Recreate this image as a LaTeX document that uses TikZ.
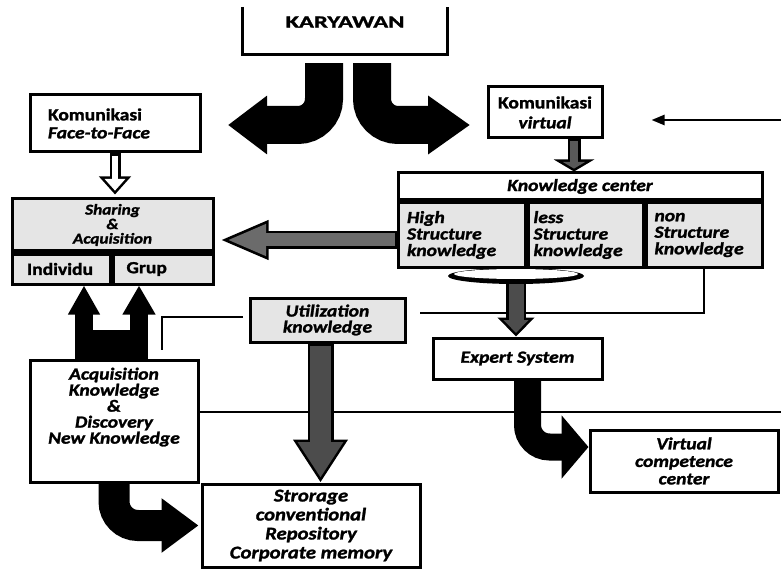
\documentclass[tikz,border=0pt]{standalone}
\usepackage{fontspec}
\setmainfont{Carlito}[FakeStretch=1.15,FakeBold=1.5]
\newfontfamily\widefont{Carlito}[FakeStretch=1.45,FakeBold=1.5]
\usetikzlibrary{arrows.meta,positioning}

\def\boxrule{3pt}
\def\linerule{2.4pt}

\begin{document}
\begin{tikzpicture}[x=1pt,y=-1pt,font=\bfseries\fontsize{17}{16.5}\selectfont]
        \tikzstyle{box}=[draw=black,line width=\boxrule,fill=white,inner sep=0pt,align=center]
        \tikzstyle{grey box}=[box,fill=black!10]
        \tikzstyle{kc part}=[grey box,align=left,minimum height=64pt,anchor=north west,font=\bfseries\itshape\fontsize{17}{16.5}\selectfont]
        \tikzstyle{thin line}=[draw=black,line width=\linerule]
        \tikzstyle{black arrow}=[draw=black,line cap=butt]

        \useasboundingbox (0,0) rectangle (781,569);

        % Draw the top box, cut at the top edge
        \coordinate (topcut) at (0,7);
        \node[minimum width=204pt,minimum height=64pt,inner sep=0pt,font=\widefont\bfseries\fontsize{17}{16.5}\selectfont] (kary) at (345,22) {KARYAWAN};
        \draw[line width=\boxrule] (kary.south west |- topcut) -- (kary.south west) -- (kary.south east) -- (kary.south east |- topcut);

        % Draw the communication boxes
        \node[box,align=left,text width=134pt,minimum width=170pt,minimum height=57pt] (f2f) at (115,123.5) {Komunikasi\\[1.5pt]\textit{Face-to-Face}};
        \node[box,minimum width=114pt,minimum height=51pt] (virt) at (545,112.5) {Komunikasi\\[3.5pt]\textit{virtual}};

        % Draw the sharing box and its two parts
        \node[grey box,minimum width=201pt,minimum height=52pt,font=\bfseries\itshape\fontsize{15}{14.5}\selectfont] (share) at (112.5,225) {Sharing\\\&\\Acquisition};
        \node[grey box,align=left,text width=68pt,minimum width=98pt,minimum height=30pt,anchor=north west] (indiv) at (share.south west) {Individu};
        \node[grey box,align=left,text width=73pt,minimum width=100pt,minimum height=30pt,anchor=north west] (grup) at (indiv.north east) {Grup};

        % Draw the knowledge center and its three parts
        \node[box,minimum width=364pt,minimum height=27pt,font=\bfseries\itshape\fontsize{17}{16.5}\selectfont] (kc) at (580,186.5) {Knowledge center};
        \node[kc part,text width=109.5pt,minimum width=127.5pt] (high) at (kc.south west) {High\\Structure\\knowledge};
        \node[kc part,text width=105pt,minimum width=115pt] (less) at (high.north east) {less\\Structure\\knowledge};
        \node[kc part,text width=99.5pt,minimum width=115.5pt] (non) at (less.north east) {non\\Structure\\knowledge};

        % Draw the lower boxes
        \node[grey box,minimum width=155pt,minimum height=44pt,font=\bfseries\itshape\fontsize{17}{16}\selectfont] (util) at (327.5,320) {Utilization\\knowledge};
        \node[box,minimum width=169pt,minimum height=41pt,font=\bfseries\itshape\fontsize{17}{16.5}\selectfont] (expert) at (517.5,358.5) {Expert System};
        \node[box,minimum width=168pt,minimum height=122pt] (acq) at (114,421) {};
        \node[below=9pt of acq.north,inner sep=0pt,align=center,font=\bfseries\itshape\fontsize{17}{16}\selectfont] (acqtext) {Acquisition\\Knowledge\\\&\\Discovery\\New Knowledge};
        \node[box,minimum width=218pt,minimum height=83pt,font=\bfseries\itshape\fontsize{18}{19}\selectfont] (store) at (311,525.5) {Strorage\\conventional\\Repository\\Corporate memory};
        \node[box,minimum width=188pt,minimum height=62pt,font=\bfseries\itshape\fontsize{17}{17.5}\selectfont] (vcc) at (684,461) {Virtual\\competence\\center};

        % Thin lines between the parts
        \coordinate (j1) at (420,313);
        \coordinate (j2) at (243,317);
        \coordinate (j3) at (162,350);
        \coordinate (rightin) at (781,120);
        \coordinate (rightout) at (781,412);
        \draw[thin line] (non.south) |- (j1);
        \draw[thin line] (j2) -| (j3);
        \draw[thin line] (acq.east |- rightout) -- (rightout);
        \draw[thin line,-{Triangle[length=13pt,width=10pt]},shorten >=48pt] (rightin) -- (virt.east |- rightin);

        % The disc under the knowledge center
        \coordinate (disc) at (516,276);
        \fill (disc) ellipse (68 and 8);
        \fill[white] ([yshift=2pt]disc) ellipse (62 and 5);

        % Black arrows out of KARYAWAN
        \coordinate (lefttip) at (228,125);
        \coordinate (righttip) at (470,125);
        \draw[black arrow,line width=38pt,rounded corners=26pt,-{Triangle[length=39pt,width=56pt]}] ([xshift=-21pt,yshift=-9pt]kary.south) |- (lefttip);
        \draw[black arrow,line width=38pt,rounded corners=26pt,-{Triangle[length=42pt,width=56pt]}] ([xshift=27pt,yshift=-9pt]kary.south) |- (righttip);

        % Grey arrows with black rim
        \draw[black arrow,line width=13pt,-{Triangle[length=12pt,width=40pt]}] ([xshift=29pt]virt.south) -- ([xshift=-6pt]kc.north);
        \draw[black arrow,draw=black!65,line width=8pt,-{Triangle[length=6.6pt,width=22pt]},shorten >=2.9pt] ([xshift=29pt,yshift=-2pt]virt.south) -- ([xshift=-6pt]kc.north);

        \coordinate (kcout) at ([yshift=-5pt]high.west);
        \draw[black arrow,line width=18pt,-{Triangle[length=49pt,width=36pt]},shorten >=5pt] (kcout) -- (kcout -| share.east);
        \draw[black arrow,draw=black!58,line width=13pt,-{Triangle[length=39.3pt,width=28.9pt]},shorten >=12.2pt,shorten <=2pt] (kcout) -- (kcout -| share.east);

        \coordinate (discout) at ([yshift=-8pt]disc);
        \draw[black arrow,line width=20pt,-{Triangle[length=19pt,width=36pt]}] (discout) -- (discout |- expert.north);
        \draw[black arrow,draw=black!70,line width=15pt,-{Triangle[length=12.9pt,width=24.4pt]},shorten >=3.6pt] (discout) -- (discout |- expert.north);

        \coordinate (utilout) at ([xshift=-7pt]util.south);
        \draw[black arrow,line width=26pt,-{Triangle[length=43pt,width=52pt]}] (utilout) -- (utilout |- store.north);
        \draw[black arrow,draw=black!70,line width=21pt,-{Triangle[length=35.7pt,width=43.2pt]},shorten >=4.8pt,shorten <=2pt] (utilout) -- (utilout |- store.north);

        % Black arrows in the lower part
        \draw[black arrow,line width=31pt,rounded corners=24pt,-{Triangle[length=37pt,width=52pt]},shorten >=2pt] (acq.south) |- (store.west);
        \draw[black arrow,line width=27pt,rounded corners=22pt,-{Triangle[length=27pt,width=62pt]}] ([xshift=10pt]expert.south) |- ([yshift=14pt]vcc.west);

        % The fork from acquisition up to both parts
        \coordinate (fl) at (84,360);
        \coordinate (fr) at (139,360);
        \fill ([xshift=-9pt]fl) rectangle ([xshift=9pt,yshift=30pt]fr);
        \draw[black arrow,line width=18pt,-{Triangle[length=29pt,width=30pt]}] (fl) -- (fl |- indiv.south);
        \draw[black arrow,line width=18pt,-{Triangle[length=29pt,width=31pt]}] (fr) -- (fr |- grup.south);

        % The hollow arrow between face-to-face and sharing
        \draw[black arrow,line width=11pt,-{Triangle[length=18pt,width=31pt]},shorten >=3pt] (f2f.south) -- (f2f.south |- share.north);
        \draw[black arrow,draw=white,line width=5.5pt,-{Triangle[length=11.7pt,width=20pt]},shorten >=6.8pt,shorten <=2.5pt] (f2f.south) -- (f2f.south |- share.north);
\end{tikzpicture}
\end{document}
